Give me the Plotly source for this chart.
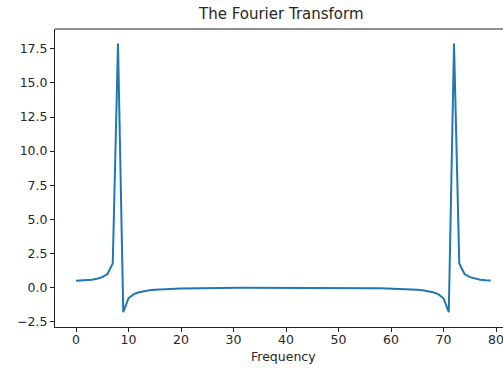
import plotly.graph_objects as go

frequency = list(range(80))
amplitude = [
    0.49, 0.50, 0.52, 0.56, 0.63, 0.75, 0.98, 1.75, 17.9, -1.82,
    -0.80, -0.50, -0.36, -0.28, -0.22, -0.18, -0.15, -0.13, -0.11, -0.10,
    -0.09, -0.08, -0.07, -0.065, -0.06, -0.055, -0.05, -0.046, -0.043, -0.04,
    -0.038, -0.036, -0.034, -0.033, -0.032, -0.031, -0.03, -0.03, -0.03, -0.03,
    -0.03, -0.03, -0.03, -0.03, -0.03, -0.031, -0.032, -0.033, -0.034, -0.036,
    -0.038, -0.04, -0.043, -0.046, -0.05, -0.055, -0.06, -0.065, -0.07, -0.08,
    -0.09, -0.10, -0.11, -0.13, -0.15, -0.18, -0.22, -0.28, -0.36, -0.50,
    -0.80, -1.82, 17.9, 1.75, 0.98, 0.75, 0.63, 0.56, 0.52, 0.50,
]
x_ticks = [0, 10, 20, 30, 40, 50, 60, 70, 80]
y_ticks = [-2.5, 0.0, 2.5, 5.0, 7.5, 10.0, 12.5, 15.0, 17.5]
title_text = "The Fourier Transform"
x_label = "Frequency"

font_family = "DejaVu Sans"
text_color = "#262626"

fig = go.Figure()
fig.add_trace(go.Scatter(
    x=frequency, y=amplitude, mode="lines",
    line=dict(color="#1f77b4", width=2),
    showlegend=False, hoverinfo="skip",
))

fig.update_layout(
    width=503, height=375,
    margin=dict(l=55, r=0, t=29, b=48),
    paper_bgcolor="white", plot_bgcolor="white",
    font=dict(family=font_family, size=12.5, color=text_color),
    xaxis=dict(
        range=[-4.0, 81.33], tickvals=x_ticks,
        ticktext=[str(v) for v in x_ticks],
        showgrid=False, zeroline=False,
        showline=True, linecolor="#222", linewidth=1,
        ticks="outside", ticklen=4, tickcolor="#222", tickwidth=1,
        tickfont=dict(size=12.5, color=text_color),
        ticklabeloverflow="allow", ticklabelstandoff=-3,
    ),
    yaxis=dict(
        range=[-2.91, 18.96], tickvals=y_ticks,
        ticktext=[f"{v:.1f}".replace("-", "\u2212") for v in y_ticks],
        showgrid=False, zeroline=False,
        showline=True, linecolor="#222", linewidth=1,
        ticks="outside", ticklen=4, tickcolor="#222", tickwidth=1,
        tickfont=dict(size=12.5, color=text_color),
    ),
    shapes=[dict(type="line", xref="paper", yref="paper",
                 x0=0, x1=1, y0=1, y1=1,
                 line=dict(color="#222", width=1))],
    annotations=[
        dict(text=title_text, xref="paper", yref="paper",
             x=0.504, y=1, yshift=4, xanchor="center", yanchor="bottom",
             showarrow=False, font=dict(size=15, color=text_color)),
        dict(text=x_label, xref="paper", yref="paper",
             x=0.51, y=0, yshift=-20, xanchor="center", yanchor="top",
             showarrow=False, font=dict(size=12.5, color=text_color)),
    ],
)

fig.write_html("out.html")
